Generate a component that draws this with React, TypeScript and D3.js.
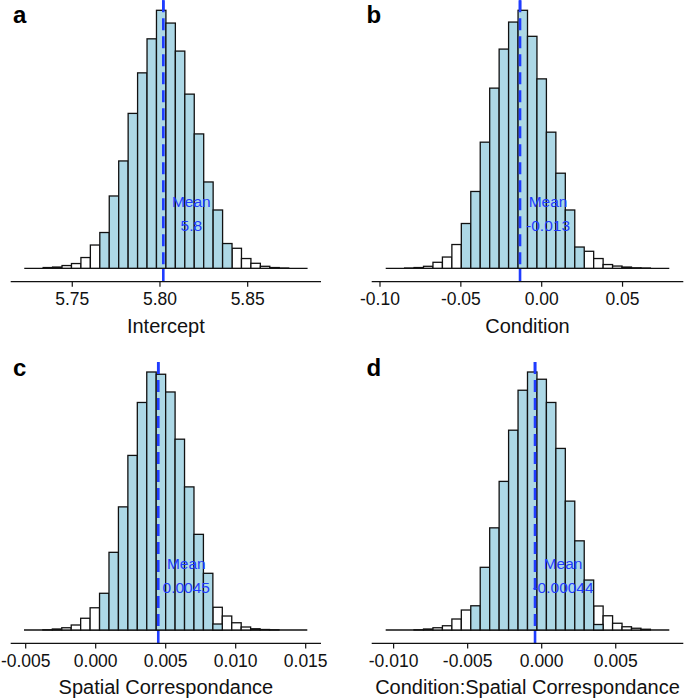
import React from "react";
import * as d3 from "d3";

// ---- data ----
const panelLetters = ["a", "b", "c", "d"];
const axisTitles = ["Intercept", "Condition", "Spatial Correspondance", "Condition:Spatial Correspondance"];
const meanValues = [5.8019, -0.0134, 0.00447, -0.00045];
const meanLabels = ["5.8", "-0.013", "0.0045", "-0.00044"];

const ticksA = [5.75, 5.8, 5.85];
const tickLabelsA = ["5.75", "5.80", "5.85"];
const ticksB = [-0.1, -0.05, 0.0, 0.05];
const tickLabelsB = ["-0.10", "-0.05", "0.00", "0.05"];
const ticksC = [-0.005, 0.0, 0.005, 0.01, 0.015];
const tickLabelsC = ["-0.005", "0.000", "0.005", "0.010", "0.015"];
const ticksD = [-0.01, -0.005, 0.0, 0.005];
const tickLabelsD = ["-0.010", "-0.005", "0.000", "0.005"];

const domainA = [5.7149, 5.8918];
const domainB = [-0.10513, 0.08757];
const domainC = [-0.006071, 0.016093];
const domainD = [-0.01148, 0.009562];

const binStartA = 5.72263, binWidthA = 0.005384;
const binStartB = -0.09647, binWidthB = 0.005846;
const binStartC = -0.005121, binWidthC = 0.0006745;
const binStartD = -0.010535, binWidthD = 0.0006384;

// counts outside the credible interval (white) and inside (blue)
const outsideA = [0, 0, 3, 5, 11, 19, 43, 93, 0, 0, 0, 0, 0, 0, 0, 0, 0, 0, 0, 0, 0, 0, 80, 39, 20, 8, 3, 1, 0, 0];
const insideA = [0, 0, 0, 0, 0, 0, 0, 0, 143, 289, 429, 619, 781, 917, 1031, 980, 868, 696, 537, 345, 233, 99, 0, 0, 0, 0, 0, 0, 0, 0];
const outsideB = [0, 0, 1, 3, 8, 24, 45, 95, 0, 0, 0, 0, 0, 0, 0, 0, 0, 0, 0, 0, 0, 68, 39, 15, 9, 5, 2, 1, 0, 0];
const insideB = [0, 0, 0, 0, 0, 0, 0, 0, 179, 307, 504, 720, 876, 984, 1031, 927, 757, 544, 380, 233, 85, 0, 0, 0, 0, 0, 0, 0, 0, 0];
const outsideC = [0, 0, 1, 4, 9, 20, 47, 89, 0, 0, 0, 0, 0, 0, 0, 0, 0, 0, 0, 0, 91, 56, 29, 12, 5, 2, 1, 0, 0, 0];
const insideC = [0, 0, 0, 0, 0, 0, 0, 0, 147, 311, 493, 699, 911, 1033, 1024, 953, 764, 573, 383, 227, 24, 0, 0, 0, 0, 0, 0, 0, 0, 0];
const outsideD = [0, 0, 0, 1, 4, 9, 17, 44, 80, 0, 0, 0, 0, 0, 0, 0, 0, 0, 0, 0, 0, 0, 96, 57, 27, 13, 7, 3, 0, 0];
const insideD = [0, 0, 0, 0, 0, 0, 0, 0, 0, 97, 251, 409, 595, 800, 960, 1033, 1004, 911, 727, 516, 357, 200, 22, 0, 0, 0, 0, 0, 0, 0];

const panels = [
  { ticks: ticksA, tickLabels: tickLabelsA, domain: domainA, binStart: binStartA, binWidth: binWidthA, outside: outsideA, inside: insideA },
  { ticks: ticksB, tickLabels: tickLabelsB, domain: domainB, binStart: binStartB, binWidth: binWidthB, outside: outsideB, inside: insideB },
  { ticks: ticksC, tickLabels: tickLabelsC, domain: domainC, binStart: binStartC, binWidth: binWidthC, outside: outsideC, inside: insideC },
  { ticks: ticksD, tickLabels: tickLabelsD, domain: domainD, binStart: binStartD, binWidth: binWidthD, outside: outsideD, inside: insideD },
];

const FONT = "'Liberation Sans', Arial, Helvetica, sans-serif";
const BLUE = "#1f3cff";
const FILL = "#add8e6";

function Panel({ idx }: { idx: number }) {
  const p = panels[idx];
  const col = idx % 2;
  const row = Math.floor(idx / 2);
  const x0 = col === 0 ? 10.7 : 371.7;
  const x1 = col === 0 ? 321 : 683.3;
  const baseY = row === 0 ? 268.3 : 630;
  const axisY = baseY + 13.4;
  const barH = 258;

  const x = d3.scaleLinear().domain(p.domain).range([x0, x1]);
  const yMax = d3.max(p.outside.concat(p.inside)) as number;
  const y = d3.scaleLinear().domain([0, yMax]).range([baseY, baseY - barH]);

  const n = p.outside.length;
  const edge = (i: number) => p.binStart + i * p.binWidth;
  const mx = x(meanValues[idx]);
  const lineTop = baseY - barH - 10;

  const bars = (counts: number[], fill: string, key: string) =>
    counts.map((c, i) =>
      c > 0 ? (
        <rect
          key={key + i}
          x={x(edge(i))}
          y={y(c)}
          width={x(edge(i + 1)) - x(edge(i))}
          height={baseY - y(c)}
          fill={fill}
          stroke="#111"
          strokeWidth={1.3}
        />
      ) : null
    );

  return (
    <g>
      <text x={col === 0 ? 13 : 366.5} y={row === 0 ? 22.7 : 376} fontFamily={FONT} fontWeight="bold" fontSize={24} fill="#000">
        {panelLetters[idx]}
      </text>
      {/* solid mean line behind bars */}
      <line x1={mx} x2={mx} y1={lineTop} y2={axisY} stroke={BLUE} strokeWidth={2.6} />
      {/* baseline of histogram */}
      <line x1={x(edge(0))} x2={x(edge(n))} y1={baseY} y2={baseY} stroke="#111" strokeWidth={1.3} />
      {bars(p.outside, "#ffffff", "o")}
      {bars(p.inside, FILL, "i")}
      {/* dashed mean line over bars */}
      <line x1={mx} x2={mx} y1={lineTop} y2={baseY} stroke={BLUE} strokeWidth={2.6} strokeDasharray="12,6" />
      <text x={mx + 28} y={baseY - 61} textAnchor="middle" fontFamily={FONT} fontSize={15.5} fill={BLUE}>
        Mean
      </text>
      <text x={mx + 28} y={baseY - 37.5} textAnchor="middle" fontFamily={FONT} fontSize={15.5} fill={BLUE}>
        {meanLabels[idx]}
      </text>
      {/* x axis */}
      <line x1={x0} x2={x1} y1={axisY} y2={axisY} stroke="#111" strokeWidth={1.3} />
      {p.ticks.map((t, i) => (
        <g key={"t" + i}>
          <line x1={x(t)} x2={x(t)} y1={axisY} y2={axisY + 5} stroke="#111" strokeWidth={1.2} />
          <text x={x(t)} y={axisY + 23.4} textAnchor="middle" fontFamily={FONT} fontSize={17.5} fill="#111">
            {p.tickLabels[i]}
          </text>
        </g>
      ))}
      <text x={(x0 + x1) / 2} y={axisY + 51} textAnchor="middle" fontFamily={FONT} fontSize={20} fill="#111">
        {axisTitles[idx]}
      </text>
    </g>
  );
}

export default function App() {
  return (
    <svg width={685} height={699} style={{ position: "absolute", left: 0, top: 0, background: "#fff" }}>
      <rect x={0} y={0} width={685} height={699} fill="#fff" />
      {panels.map((_, i) => (
        <Panel key={i} idx={i} />
      ))}
    </svg>
  );
}
